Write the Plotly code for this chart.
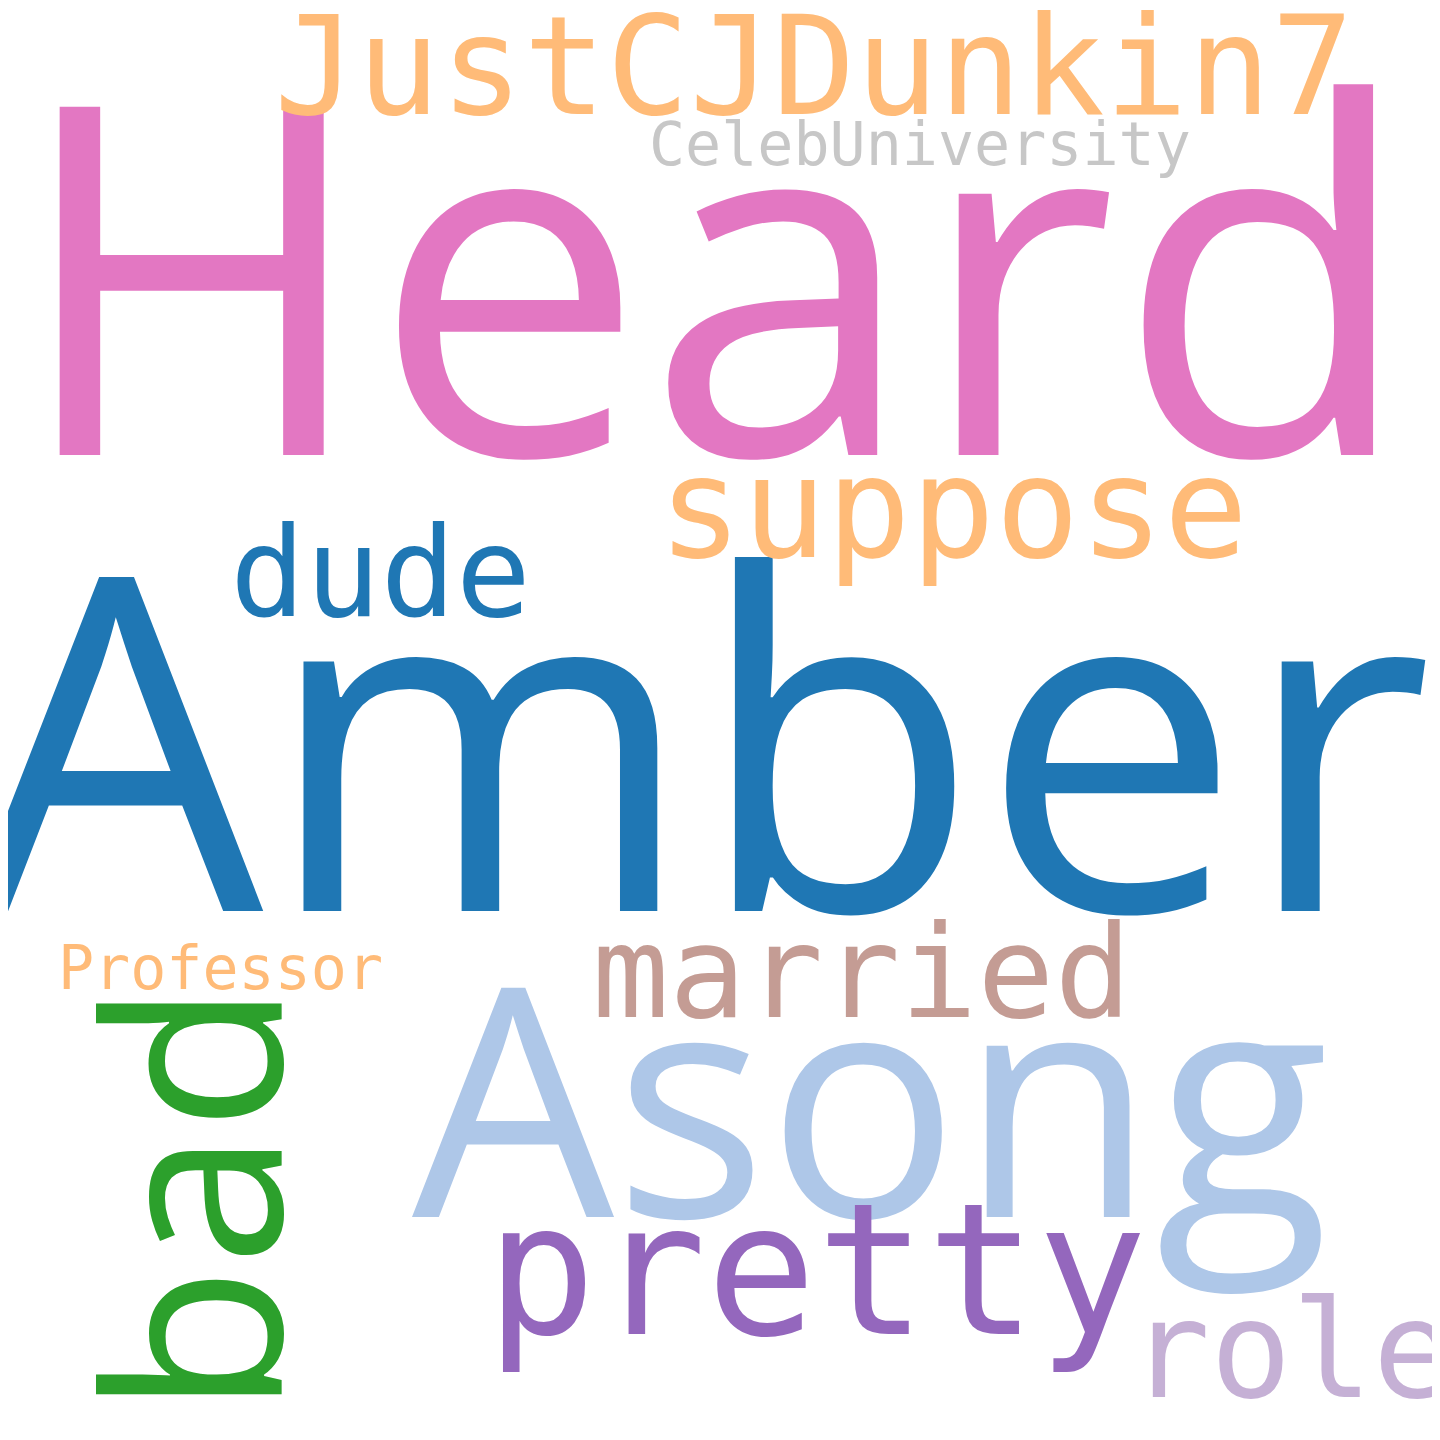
import plotly.graph_objects as go

words  = ["Heard","Amber","Asong","bad","JustCJDunkin7","CelebUniversity","suppose","dude","Professor","married","pretty","role"]
sizes  = [488,466,320,243,138,60,140,125,60,128,183,135]
colors = ["#e377c2","#1f77b4","#aec7e8","#2ca02c","#ffbb78","#c7c7c7","#ffbb78","#1f77b4","#ffbb78","#c49c94","#9467bd","#c5b0d5"]
xs     = [705,692,862,179,806,912,945,372,212,853,808,1283]
ys     = [257,722,1085,1191,58,136,500,564,960,964,1262,1342]
angles = [0,0,0,-90,0,0,0,0,0,0,0,0]
fonts  = ["Open Sans","Open Sans","Open Sans","Open Sans","DejaVu Sans Mono","DejaVu Sans Mono","DejaVu Sans Mono",
          "DejaVu Sans Mono","DejaVu Sans Mono","DejaVu Sans Mono","DejaVu Sans Mono","DejaVu Sans Mono"]

fig = go.Figure()
for w, s, c, x, y, a, f in zip(words, sizes, colors, xs, ys, angles, fonts):
    fig.add_annotation(x=x, y=y, text=w, showarrow=False, xref="x", yref="y",
                       xanchor="center", yanchor="middle", textangle=a,
                       font=dict(family=f, size=s, color=c))
fig.update_xaxes(range=[0,1440], visible=False)
fig.update_yaxes(range=[1440,0], visible=False)
fig.update_layout(width=1440, height=1440, margin=dict(l=0,r=0,t=0,b=0),
                  plot_bgcolor="white", paper_bgcolor="white")
fig.write_html("out.html")
